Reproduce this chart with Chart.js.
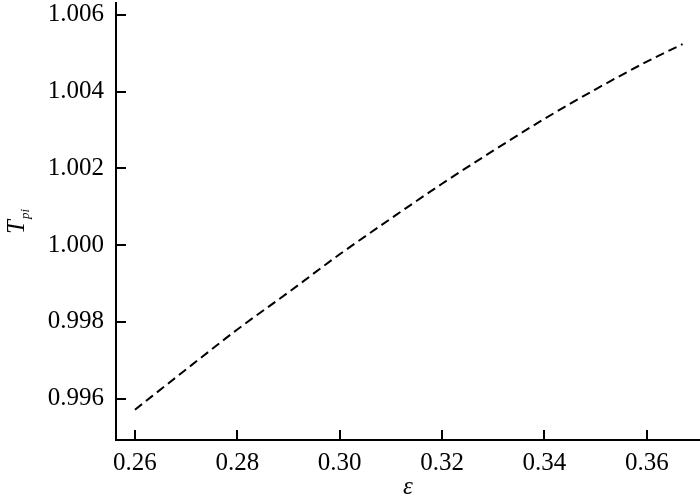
<!DOCTYPE html>
<html>
<head>
<meta charset="utf-8">
<script src="https://cdn.jsdelivr.net/npm/chart.js@4/dist/chart.umd.min.js"></script>
<style>
  html, body { margin: 0; padding: 0; background: #fff; }
  #wrap { position: relative; width: 700px; height: 502px; overflow: hidden; }
  #box { position: absolute; left: 0; top: -34px; width: 700px; height: 536px; }
</style>
</head>
<body>
<div id="wrap"><div id="box"><canvas id="grafico"></canvas></div></div>
<script>
// dados
const epsValues = [0.26, 0.27, 0.28, 0.29, 0.30, 0.31, 0.32, 0.33, 0.34, 0.35, 0.36, 0.367];
const tpiValues = [0.99571, 0.99676, 0.99780, 0.99877, 0.99976, 1.00069, 1.00160, 1.00246, 1.00329, 1.00406, 1.00478, 1.00524];
const xTicks = [0.26, 0.28, 0.30, 0.32, 0.34, 0.36];
const yTicks = [0.996, 0.998, 1.000, 1.002, 1.004, 1.006];

const fonte = 'Liberation Serif, Times New Roman, serif';

// título do eixo y com subscrito (T_pi)
const tituloY = {
    id: 'tituloY',
    afterDraw(chart) {
        const ctx = chart.ctx;
        ctx.save();
        ctx.translate(24, 34 + 234);
        ctx.rotate(-Math.PI / 2);
        ctx.fillStyle = '#000';
        ctx.textBaseline = 'alphabetic';
        ctx.font = 'italic 25px ' + fonte;
        ctx.fillText('T', 0, 0);
        const w = ctx.measureText('T').width;
        ctx.font = 'italic 13px ' + fonte;
        ctx.fillText('pi', w + 1, 5);
        ctx.restore();
    }
};

const ctx = document.getElementById('grafico');

new Chart(ctx, {
    type: 'line',
    data: {
        datasets: [{
            data: epsValues.map((x, i) => ({ x: x, y: tpiValues[i] })),
            borderColor: '#000',
            borderWidth: 2,
            borderDash: [9, 5],
            pointRadius: 0,
            cubicInterpolationMode: 'monotone',
            fill: false
        }]
    },
    options: {
        responsive: true,
        maintainAspectRatio: false,
        animation: false,
        layout: { padding: 0 },
        plugins: {
            legend: { display: false },
            tooltip: { enabled: false }
        },
        scales: {
            x: {
                type: 'linear',
                min: 0.2563,
                max: 0.3704,
                afterBuildTicks: axis => { axis.ticks = xTicks.map(v => ({ value: v })); },
                afterFit: axis => { axis.height = 62; },
                grid: { drawOnChartArea: false, color: '#000', lineWidth: 2, tickLength: -10 },
                border: { display: true, color: '#000', width: 2 },
                ticks: {
                    color: '#000',
                    font: { family: fonte, size: 25 },
                    padding: 18,
                    maxRotation: 0,
                    callback: v => v.toFixed(2)
                },
                title: {
                    display: true,
                    text: 'ε',
                    color: '#000',
                    font: { family: fonte, size: 25, style: 'italic' },
                    padding: 0
                }
            },
            y: {
                min: 0.99492,
                max: 1.00631,
                afterBuildTicks: axis => { axis.ticks = yTicks.map(v => ({ value: v })); },
                afterFit: axis => { axis.width = 116; },
                grid: { drawOnChartArea: false, color: '#000', lineWidth: 2, tickLength: -10 },
                border: { display: true, color: '#000', width: 2 },
                ticks: {
                    color: '#000',
                    font: { family: fonte, size: 25 },
                    padding: 22,
                    callback: v => v.toFixed(3)
                }
            }
        }
    },
    plugins: [tituloY]
});
</script>
</body>
</html>
